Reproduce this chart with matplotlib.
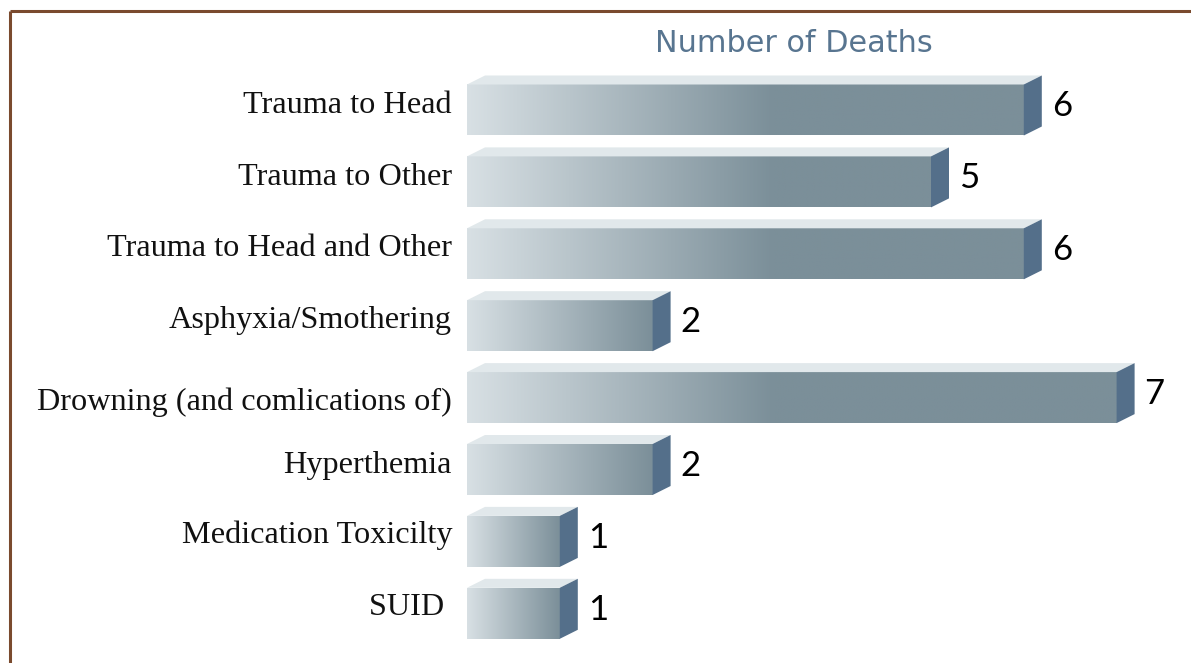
import numpy as np
import matplotlib
matplotlib.use("Agg")
import matplotlib.pyplot as plt
from matplotlib.patches import Polygon
from matplotlib.lines import Line2D

# Causes of death and counts
causes = [
    "Trauma to Head",
    "Trauma to Other",
    "Trauma to Head and Other",
    "Asphyxia/Smothering",
    "Drowning (and comlications of)",
    "Hyperthemia",
    "Medication Toxicilty",
    "SUID ",
]
deaths = [6, 5, 6, 2, 7, 2, 1, 1]
title = "Number of Deaths"

W, H = 1191, 663
DPI = 100
fig = plt.figure(figsize=(W / DPI, H / DPI), dpi=DPI)
fig.patch.set_facecolor("white")

# pixel geometry of the plotting area
x0_px = 467.0           # left edge of bars
unit_px = 92.8          # pixels per death
row0_px = 110.0         # centre of first bar (from top)
row_px = 71.9           # row pitch
ax = fig.add_axes([x0_px / W, 0, 1 - x0_px / W, 1])
ax.axis("off")

px_x = 1.0 / unit_px
px_y = 1.0 / row_px
bar_h = 51 * px_y
dx = 18 * px_x
dy = 9 * px_y

light = np.array([0xd8, 0xe0, 0xe4]) / 255.0
dark = np.array([0x7b, 0x8f, 0x99]) / 255.0
top_col = "#e1e8eb"
side_col = "#546f8a"
ramp_len = 3.3

for i, v in enumerate(deaths):
    yc = i
    ytop = yc - bar_h / 2
    ybot = yc + bar_h / 2
    # front face with horizontal shading
    xs = np.linspace(0, v, 400)
    t = np.clip(xs / min(v, ramp_len), 0, 1)[:, None]
    cols = light * (1 - t) + dark * t
    ax.imshow(cols[None, :, :], extent=(0, v, ybot, ytop), aspect="auto",
              interpolation="bilinear", zorder=2)
    # top face
    ax.add_patch(Polygon([(0, ytop), (v, ytop), (v + dx, ytop - dy), (dx, ytop - dy)],
                         closed=True, facecolor=top_col, edgecolor="none", zorder=3))
    # side face
    ax.add_patch(Polygon([(v, ytop), (v + dx, ytop - dy), (v + dx, ybot - dy), (v, ybot)],
                         closed=True, facecolor=side_col, edgecolor="none", zorder=3))
    # value label
    ax.text(v + dx + 10 * px_x, yc - dy / 2 + 1 * px_y, str(v), ha="left", va="center",
            fontsize=25, color="black", family=["Lato", "DejaVu Sans"], zorder=4)

ax.set_xlim(0, (W - x0_px) / unit_px)
ax.set_ylim((H - row0_px) / row_px, -row0_px / row_px)

# category labels in the left margin (baseline positions)
label_shift = [-8, -8, -9, -9, 1, -8, -9, -9]
for i, (name, s) in enumerate(zip(causes, label_shift)):
    ypx = row0_px + row_px * i + s + 11
    fig.text(452 / W, 1 - ypx / H, name, ha="right", va="baseline",
             fontsize=23.2, color="#111111", family="Liberation Serif")

fig.text(794 / W, 1 - 52 / H, title, ha="center", va="baseline",
         fontsize=21.8, color="#587590", family=["DejaVu Sans"])

# brown frame along the top and left
frame = "#7a4a2e"
fig.add_artist(Line2D([9.5 / W, 1], [1 - 11 / H, 1 - 11 / H], color=frame, lw=2.2,
                      transform=fig.transFigure, solid_capstyle="butt"))
fig.add_artist(Line2D([9.5 / W, 9.5 / W], [0, 1 - 11 / H], color=frame, lw=2.2,
                      transform=fig.transFigure, solid_capstyle="butt"))

fig.savefig("out.png", dpi=DPI, facecolor="white")
